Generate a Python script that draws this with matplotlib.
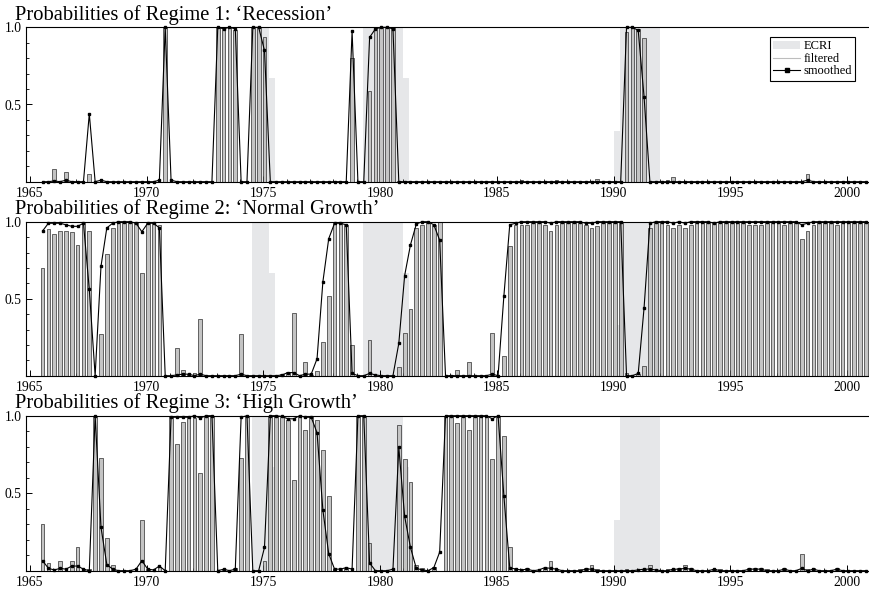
import matplotlib
matplotlib.use("Agg")
import matplotlib.pyplot as plt
import numpy as np
from matplotlib.lines import Line2D
from matplotlib.patches import Patch
from matplotlib.ticker import FormatStrFormatter, MultipleLocator

plt.rcParams["font.family"] = ["Liberation Serif", "DejaVu Serif"]

# quarterly sample 1965Q3 - 2000Q4
quarters = 1965.5 + 0.25 * np.arange(142)

# ECRI recession indicator (quarter start, share of quarter in recession)
ecri_quarters = [1974.5, 1974.75, 1975.0, 1975.25,
                 1979.25, 1979.5, 1979.75, 1980.0, 1980.25, 1980.5, 1980.75, 1981.0,
                 1990.0, 1990.25, 1990.5, 1990.75, 1991.0, 1991.25, 1991.5, 1991.75]
ecri_values = [1, 1, 1, 0.67,
               1, 1, 1, 1, 1, 1, 1, 0.67,
               0.33, 1, 1, 1, 1, 1, 1, 1]

filt1 = [0.00, 0.00,
         0.08, 0.00, 0.06, 0.005,  # 1966
         0.00, 0.00, 0.05, 0.00,   # 1967
         0.00, 0.00, 0.00, 0.00,   # 1968
         0.00, 0.00, 0.00, 0.00,   # 1969
         0.00, 0.00, 0.00, 1.00,   # 1970
         0.00, 0.00, 0.00, 0.00,   # 1971
         0.00, 0.00, 0.00, 0.00,   # 1972
         1.00, 0.99, 1.00, 0.98,   # 1973
         0.00, 0.00, 1.00, 1.00,   # 1974
         0.94, 0.00, 0.00, 0.00,   # 1975
         0.00, 0.00, 0.00, 0.00,   # 1976
         0.00, 0.00, 0.00, 0.00,   # 1977
         0.00, 0.00, 0.00, 0.80,   # 1978
         0.00, 0.00, 0.59, 1.00,   # 1979
         1.00, 1.00, 1.00, 0.005,  # 1980
         0.00, 0.00, 0.00, 0.00,   # 1981
         0.00, 0.00, 0.00, 0.00,   # 1982
         0.00, 0.00, 0.00, 0.00,   # 1983
         0.00, 0.00, 0.00, 0.00,   # 1984
         0.00, 0.00, 0.00, 0.00,   # 1985
         0.01, 0.00, 0.00, 0.00,   # 1986
         0.00, 0.00, 0.01, 0.00,   # 1987
         0.00, 0.00, 0.00, 0.00,   # 1988
         0.00, 0.02, 0.00, 0.00,   # 1989
         0.00, 0.00, 0.97, 1.00,   # 1990
         0.99, 0.93, 0.00, 0.00,   # 1991
         0.00, 0.01, 0.03, 0.00,   # 1992
         0.00, 0.00, 0.00, 0.00,   # 1993
         0.00, 0.00, 0.00, 0.00,   # 1994
         0.00, 0.00, 0.00, 0.00,   # 1995
         0.00, 0.00, 0.00, 0.00,   # 1996
         0.00, 0.00, 0.00, 0.00,   # 1997
         0.00, 0.05, 0.00, 0.00,   # 1998
         0.00, 0.00, 0.00, 0.00,   # 1999
         0.00, 0.00, 0.00, 0.00]   # 2000

filt2 = [0.70, 0.95,
         0.92, 0.94, 0.94, 0.93,
         0.85, 0.99, 0.94, 0.00,
         0.27, 0.79, 0.96, 1.00,
         1.00, 1.00, 1.00, 0.67,
         0.99, 1.00, 0.98, 0.00,
         0.00, 0.18, 0.035, 0.01,
         0.015, 0.37, 0.00, 0.00,
         0.00, 0.00, 0.00, 0.00,
         0.27, 0.00, 0.00, 0.00,
         0.00, 0.00, 0.00, 0.01,
         0.025, 0.41, 0.00, 0.09,
         0.005, 0.03, 0.22, 0.52,
         1.00, 0.99, 0.98, 0.20,
         0.00, 0.00, 0.23, 0.00,
         0.00, 0.00, 0.00, 0.055,
         0.28, 0.43, 0.96, 0.98,
         1.00, 0.98, 1.00, 0.00,
         0.005, 0.04, 0.00, 0.09,
         0.00, 0.00, 0.00, 0.28,
         0.00, 0.13, 0.84, 0.98,
         0.98, 0.98, 1.00, 1.00,
         0.98, 0.94, 0.98, 1.00,
         1.00, 1.00, 0.99, 0.98,
         0.96, 0.97, 1.00, 1.00,
         1.00, 0.99, 0.02, 0.00,
         0.01, 0.06, 0.96, 1.00,
         1.00, 0.98, 0.96, 0.98,
         0.96, 0.98, 1.00, 1.00,
         1.00, 0.99, 0.99, 1.00,
         1.00, 1.00, 1.00, 0.98,
         0.98, 0.98, 0.99, 1.00,
         1.00, 0.98, 1.00, 1.00,
         0.89, 0.94, 0.98, 1.00,
         1.00, 1.00, 0.98, 1.00,
         1.00, 1.00, 1.00, 1.00]

filt3 = [0.30, 0.05,
         0.00, 0.06, 0.00, 0.065,
         0.15, 0.01, 0.01, 1.00,
         0.725, 0.21, 0.04, 0.00,
         0.00, 0.00, 0.00, 0.33,
         0.01, 0.00, 0.025, 0.00,
         1.00, 0.815, 0.96, 0.99,
         0.985, 0.63, 1.00, 1.00,
         0.00, 0.01, 0.00, 0.02,
         0.73, 1.00, 0.00, 0.00,
         0.06, 1.00, 1.00, 0.99,
         0.975, 0.585, 1.00, 0.91,
         0.995, 0.97, 0.78, 0.48,
         0.00, 0.01, 0.02, 0.00,
         1.00, 1.00, 0.18, 0.00,
         0.00, 0.00, 0.00, 0.94,
         0.72, 0.57, 0.04, 0.02,
         0.00, 0.025, 0.00, 1.00,
         0.995, 0.955, 1.00, 0.91,
         1.00, 1.00, 1.00, 0.72,
         1.00, 0.87, 0.155, 0.015,
         0.01, 0.015, 0.00, 0.00,
         0.02, 0.06, 0.01, 0.00,
         0.00, 0.00, 0.01, 0.015,
         0.04, 0.01, 0.00, 0.00,
         0.00, 0.00, 0.01, 0.00,
         0.00, 0.01, 0.04, 0.00,
         0.00, 0.01, 0.01, 0.02,
         0.035, 0.02, 0.00, 0.00,
         0.00, 0.01, 0.01, 0.00,
         0.00, 0.00, 0.00, 0.02,
         0.015, 0.015, 0.01, 0.00,
         0.00, 0.015, 0.00, 0.00,
         0.11, 0.01, 0.015, 0.00,
         0.00, 0.00, 0.02, 0.00,
         0.00, 0.00, 0.00, 0.00]

smooth1 = [0.00, 0.00,
           0.005, 0.00, 0.01, 0.00,
           0.00, 0.00, 0.44, 0.00,
           0.01, 0.00, 0.00, 0.00,
           0.00, 0.00, 0.00, 0.00,
           0.00, 0.00, 0.01, 1.00,
           0.01, 0.00, 0.00, 0.00,
           0.00, 0.00, 0.00, 0.00,
           1.00, 0.99, 1.00, 0.99,
           0.00, 0.00, 1.00, 1.00,
           0.85, 0.00, 0.00, 0.00,
           0.00, 0.00, 0.00, 0.00,
           0.00, 0.00, 0.00, 0.00,
           0.00, 0.00, 0.00, 0.975,
           0.00, 0.00, 0.935, 0.99,
           1.00, 1.00, 0.99, 0.00,
           0.00, 0.00, 0.00, 0.00,
           0.00, 0.00, 0.00, 0.00,
           0.00, 0.00, 0.00, 0.00,
           0.00, 0.00, 0.00, 0.00,
           0.00, 0.00, 0.00, 0.00,
           0.00, 0.00, 0.00, 0.00,
           0.00, 0.00, 0.00, 0.00,
           0.00, 0.00, 0.00, 0.00,
           0.00, 0.00, 0.00, 0.00,
           0.00, 0.00, 1.00, 1.00,
           0.98, 0.55, 0.00, 0.00,
           0.00, 0.00, 0.00, 0.00,
           0.00, 0.00, 0.00, 0.00,
           0.00, 0.00, 0.00, 0.00,
           0.00, 0.00, 0.00, 0.00,
           0.00, 0.00, 0.00, 0.00,
           0.00, 0.00, 0.00, 0.00,
           0.00, 0.01, 0.00, 0.00,
           0.00, 0.00, 0.00, 0.00,
           0.00, 0.00, 0.00, 0.00]

smooth2 = [0.94, 0.99,
           0.99, 0.99, 0.98, 0.97,
           0.97, 0.99, 0.56, 0.00,
           0.71, 0.96, 0.99, 1.00,
           1.00, 1.00, 0.99, 0.935,
           0.99, 0.99, 0.96, 0.00,
           0.00, 0.005, 0.01, 0.01,
           0.00, 0.01, 0.00, 0.00,
           0.00, 0.00, 0.00, 0.00,
           0.01, 0.00, 0.00, 0.00,
           0.00, 0.00, 0.00, 0.005,
           0.02, 0.02, 0.00, 0.01,
           0.01, 0.11, 0.61, 0.89,
           0.99, 0.99, 0.98, 0.015,
           0.00, 0.00, 0.015, 0.005,
           0.00, 0.00, 0.00, 0.21,
           0.65, 0.85, 0.985, 1.00,
           1.00, 0.98, 0.88, 0.00,
           0.00, 0.00, 0.00, 0.00,
           0.00, 0.00, 0.00, 0.01,
           0.00, 0.52, 0.98, 0.99,
           1.00, 1.00, 1.00, 1.00,
           1.00, 0.99, 1.00, 1.00,
           1.00, 1.00, 1.00, 0.99,
           0.99, 1.00, 1.00, 1.00,
           1.00, 1.00, 0.00, 0.00,
           0.015, 0.44, 0.99, 1.00,
           1.00, 1.00, 0.99, 1.00,
           0.99, 1.00, 1.00, 1.00,
           1.00, 0.99, 1.00, 1.00,
           1.00, 1.00, 1.00, 1.00,
           1.00, 1.00, 1.00, 1.00,
           1.00, 1.00, 1.00, 1.00,
           0.98, 0.99, 1.00, 1.00,
           1.00, 1.00, 1.00, 1.00,
           1.00, 1.00, 1.00, 1.00]

smooth3 = [0.065, 0.015,
           0.005, 0.015, 0.01, 0.03,
           0.03, 0.01, 0.00, 1.00,
           0.28, 0.04, 0.01, 0.00,
           0.00, 0.00, 0.01, 0.065,
           0.01, 0.005, 0.03, 0.00,
           0.99, 0.99, 0.99, 0.99,
           1.00, 0.985, 1.00, 1.00,
           0.00, 0.01, 0.00, 0.01,
           0.99, 1.00, 0.00, 0.00,
           0.15, 1.00, 1.00, 0.995,
           0.98, 0.98, 1.00, 0.99,
           0.99, 0.89, 0.39, 0.11,
           0.01, 0.01, 0.02, 0.01,
           1.00, 1.00, 0.05, 0.00,
           0.00, 0.00, 0.01, 0.795,
           0.35, 0.15, 0.015, 0.005,
           0.00, 0.02, 0.12, 1.00,
           1.00, 1.00, 1.00, 1.00,
           1.00, 1.00, 1.00, 0.98,
           1.00, 0.48, 0.02, 0.01,
           0.005, 0.01, 0.00, 0.005,
           0.02, 0.015, 0.01, 0.00,
           0.00, 0.00, 0.00, 0.01,
           0.01, 0.00, 0.00, 0.00,
           0.00, 0.00, 0.00, 0.00,
           0.005, 0.01, 0.01, 0.005,
           0.00, 0.00, 0.01, 0.01,
           0.015, 0.01, 0.00, 0.00,
           0.00, 0.01, 0.00, 0.00,
           0.00, 0.00, 0.00, 0.01,
           0.01, 0.01, 0.00, 0.00,
           0.00, 0.01, 0.00, 0.00,
           0.015, 0.00, 0.01, 0.00,
           0.00, 0.00, 0.01, 0.00,
           0.00, 0.00, 0.00, 0.00]

titles = ["Probabilities of Regime 1: \u2018Recession\u2019",
          "Probabilities of Regime 2: \u2018Normal Growth\u2019",
          "Probabilities of Regime 3: \u2018High Growth\u2019"]

ecri_color = "#e6e7e9"
bar_face = "#c4c4c4"
bar_edge = "#2e2e2e"

W, H = 869, 590
fig = plt.figure(figsize=(W / 100, H / 100), dpi=100)

# axes pixel boxes: (top, bottom)
panel_px = [(27.3, 181.7), (221.7, 375.7), (415.7, 570.7)]
title_base_px = [20.0, 214.0, 408.0]
left_px = 26.0

xpos = quarters + 0.05
filtered = [filt1, filt2, filt3]
smoothed = [smooth1, smooth2, smooth3]

for k in range(3):
    top, bot = panel_px[k]
    ax = fig.add_axes([left_px / W, 1 - bot / H, 1 - left_px / W, (bot - top) / H])

    # ECRI shading
    ax.bar(ecri_quarters, ecri_values, width=0.25, align="edge",
           color=ecri_color, linewidth=0, zorder=1)
    # filtered probabilities as bars
    ax.bar(xpos, filtered[k], width=0.16, facecolor=bar_face,
           edgecolor=bar_edge, linewidth=0.5, zorder=2)
    # smoothed probabilities
    ax.plot(xpos, smoothed[k], color="black", linewidth=0.8, marker="s",
            markersize=2.0, zorder=3, clip_on=False)

    ax.set_xlim(1964.84, 2000.93)
    ax.set_ylim(0, 1.0)
    ax.xaxis.set_major_locator(MultipleLocator(5))
    ax.xaxis.set_minor_locator(MultipleLocator(1))
    ax.set_yticks([0.5, 1.0])
    ax.yaxis.set_minor_locator(MultipleLocator(0.1))
    ax.yaxis.set_major_formatter(FormatStrFormatter("%.1f"))
    ax.tick_params(axis="x", which="major", direction="in", length=4.5,
                   width=0.7, labelsize=9.8, pad=4, top=False)
    ax.tick_params(axis="x", which="minor", direction="in", length=2,
                   width=0.6, top=False)
    ax.tick_params(axis="y", which="major", direction="in", length=4.5,
                   width=0.7, labelsize=9.8, pad=3, right=False)
    ax.tick_params(axis="y", which="minor", direction="in", length=2.2,
                   width=0.6, right=False)
    for side in ["top", "bottom", "left"]:
        ax.spines[side].set_linewidth(0.8)
    ax.spines["right"].set_visible(False)

    fig.text(15 / W, 1 - title_base_px[k] / H, titles[k], fontsize=14.8,
             ha="left", va="baseline")

    if k == 0:
        handles = [Patch(facecolor=ecri_color, edgecolor="none"),
                   Line2D([], [], color="#bdbdbd", linewidth=0.8),
                   Line2D([], [], color="black", linewidth=0.8, marker="s",
                          markersize=2.2)]
        leg = ax.legend(handles, ["ECRI", "filtered", "smoothed"],
                        loc="upper right",
                        bbox_to_anchor=((855 - left_px) / (W - left_px),
                                        1 - (37 - top) / (bot - top)),
                        borderaxespad=0, fontsize=9, frameon=True,
                        fancybox=False, framealpha=1, edgecolor="black",
                        borderpad=0.25, labelspacing=0.05, handlelength=2.1,
                        handletextpad=0.3, handleheight=0.6)
        leg.get_frame().set_linewidth(0.8)

fig.savefig("out.png", dpi=100)
